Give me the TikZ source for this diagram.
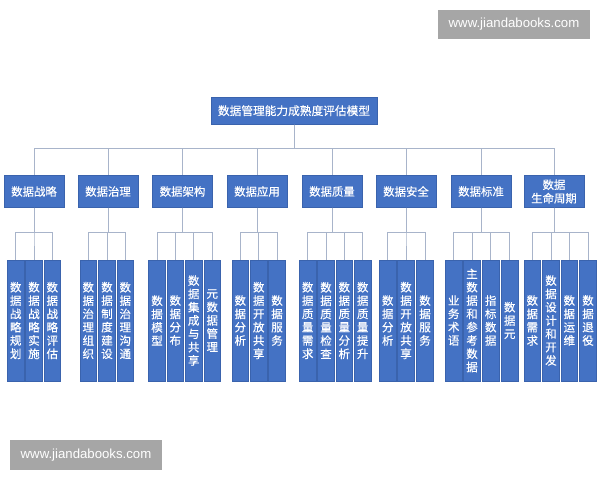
\documentclass[tikz,border=0pt]{standalone}
\usepackage{fontspec}
\newfontfamily\cjk[FakeBold=0.35]{Noto Sans CJK SC}
\newfontfamily\wmfont{Liberation Sans}
\definecolor{boxblue}{HTML}{4472C4}
\definecolor{boxedge}{HTML}{3A63AD}
\definecolor{linkc}{HTML}{A8B4CA}
\definecolor{wmgray}{HTML}{A6A6A6}
\begin{document}
\begin{tikzpicture}[x=1pt,y=-1pt,
  topbox/.style={draw=boxedge,fill=boxblue,line width=0.6pt,text=white,inner sep=0pt,
    minimum width=166pt,minimum height=27pt,font=\cjk\fontsize{11.7}{13}\selectfont},
  catbox/.style={draw=boxedge,fill=boxblue,line width=0.6pt,text=white,inner sep=0pt,align=center,
    minimum width=60pt,minimum height=31.5pt,font=\cjk\fontsize{11.4}{13.5}\selectfont},
  leafbox/.style={draw=boxedge,fill=boxblue,line width=0.6pt,text=white,inner sep=0pt,align=center,
    minimum width=16.7pt,minimum height=121pt,font=\cjk\fontsize{11.5}{13.3}\selectfont},
  wm/.style={fill=wmgray,text=white,inner sep=0pt,minimum width=152pt,minimum height=29.5pt,
    font=\wmfont\fontsize{13.2}{15}\selectfont},
  link/.style={draw=linkc,line width=0.9pt}]
\useasboundingbox (0,0) rectangle (600,480);
\fill[white] (0,0) rectangle (600,480);

\node[wm] (wm1) at (514,24.5) {www.jiandabooks.com};
\node[wm] (wm2) at (86,455) {www.jiandabooks.com};

\node[topbox] (root) at (294,110.7) {数据管理能力成熟度评估模型};

\foreach \n/\x/\t in {c1/34/{数据战略}, c2/108/{数据治理}, c3/182.5/{数据架构}, c4/257/{数据应用},
  c5/332/{数据质量}, c6/406/{数据安全}, c7/481/{数据标准}, c8/554/{数据\\生命周期}}
  \node[catbox] (\n) at (\x,191.5) {\t};

\foreach \n/\x/\t in {
  a1/15.7/{数\\据\\战\\略\\规\\划}, a2/34/{数\\据\\战\\略\\实\\施}, a3/52.3/{数\\据\\战\\略\\评\\估},
  b1/88.3/{数\\据\\治\\理\\组\\织}, b2/107/{数\\据\\制\\度\\建\\设}, b3/125.3/{数\\据\\治\\理\\沟\\通},
  d1/157/{数\\据\\模\\型}, d2/175.3/{数\\据\\分\\布}, d3/193.7/{数\\据\\集\\成\\与\\共\\享}, d4/212.3/{元\\数\\据\\管\\理},
  e1/240.3/{数\\据\\分\\析}, e2/258.7/{数\\据\\开\\放\\共\\享}, e3/277/{数\\据\\服\\务},
  f1/307.7/{数\\据\\质\\量\\需\\求}, f2/326/{数\\据\\质\\量\\检\\查}, f3/344.3/{数\\据\\质\\量\\分\\析}, f4/362.7/{数\\据\\质\\量\\提\\升},
  g1/387.7/{数\\据\\分\\析}, g2/406/{数\\据\\开\\放\\共\\享}, g3/425/{数\\据\\服\\务},
  h1/453.7/{业\\务\\术\\语}, h2/472/{主\\数\\据\\和\\参\\考\\数\\据}, h3/490.7/{指\\标\\数\\据}, h4/509.7/{数\\据\\元},
  k1/532.3/{数\\据\\需\\求}, k2/551/{数\\据\\设\\计\\和\\开\\发}, k3/569.3/{数\\据\\运\\维}, k4/588/{数\\据\\退\\役}}
  \node[leafbox] (\n) at (\x,320.5) {\t};

\foreach \n in {c1,c2,c3,c4,c5,c6,c7,c8}
  \draw[link] (root.south) -- ++(0,23.8) -| (\n.north);

\foreach \p/\n in {c1/a1,c1/a2,c1/a3, c2/b1,c2/b2,c2/b3, c3/d1,c3/d2,c3/d3,c3/d4,
  c4/e1,c4/e2,c4/e3, c5/f1,c5/f2,c5/f3,c5/f4, c6/g1,c6/g2,c6/g3,
  c7/h1,c7/h2,c7/h3,c7/h4, c8/k1,c8/k2,c8/k3,c8/k4}
  \draw[link] (\p.south) -- ++(0,24.75) -| (\n.north);
\end{tikzpicture}
\end{document}
